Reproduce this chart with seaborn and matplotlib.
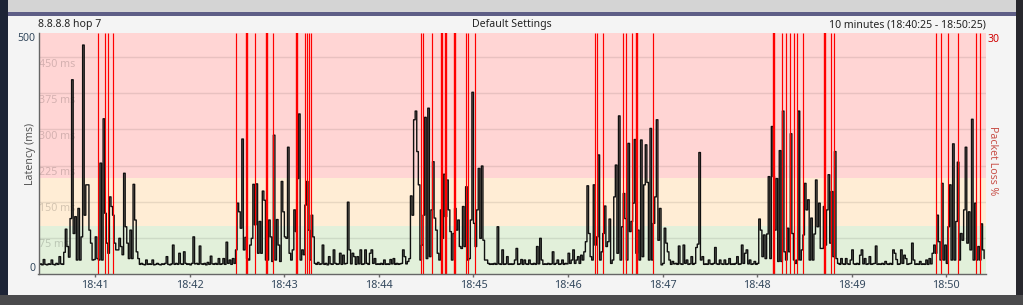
import numpy as np
import pandas as pd
import matplotlib
matplotlib.use("Agg")
import matplotlib.pyplot as plt
import matplotlib.dates as mdates
from matplotlib.patches import Rectangle
import seaborn as sns

# ---------------- data ----------------
start_time = "2024-01-01 18:40:24"
sample_step_s = 1
# latency (ms), one value per second from 18:40:24
latency_ms = [
    20, 21, 19, 30, 20, 19, 21, 20, 29, 20, 19, 22, 20, 36, 21, 20, 45, 93, 57, 35,
    115, 403, 84, 119, 29, 136, 29, 77, 475, 122, 185, 185, 91, 64, 29, 30, 77, 32, 29, 230,
    29, 322, 126, 64, 43, 160, 140, 122, 64, 50, 50, 74, 57, 40, 209, 98, 64, 32, 91, 32,
    186, 112, 46, 32, 20, 22, 20, 19, 29, 20, 21, 20, 29, 19, 20, 22, 20, 19, 21, 20,
    22, 36, 20, 19, 21, 60, 20, 22, 20, 43, 21, 20, 46, 22, 20, 21, 19, 22, 77, 21,
    22, 20, 58, 21, 20, 22, 19, 24, 20, 37, 21, 20, 22, 20, 32, 20, 21, 32, 20, 66,
    22, 29, 20, 32, 22, 50, 147, 129, 95, 280, 50, 76, 32, 29, 60, 74, 186, 102, 187, 43,
    109, 43, 172, 153, 29, 29, 112, 77, 26, 288, 29, 113, 60, 26, 192, 129, 77, 74, 263, 43,
    29, 50, 133, 88, 198, 332, 29, 50, 40, 143, 192, 91, 29, 122, 77, 22, 20, 24, 20, 21,
    60, 20, 22, 19, 36, 21, 20, 50, 22, 20, 21, 43, 20, 39, 21, 22, 149, 50, 21, 43,
    36, 20, 36, 21, 50, 20, 21, 50, 22, 20, 43, 50, 22, 32, 20, 21, 20, 22, 20, 29,
    20, 21, 20, 30, 21, 32, 20, 22, 20, 21, 22, 50, 36, 21, 26, 32, 162, 122, 320, 338,
    254, 185, 29, 60, 122, 325, 32, 344, 36, 133, 233, 116, 91, 43, 29, 133, 74, 207, 119, 195,
    133, 88, 29, 84, 136, 91, 112, 57, 53, 140, 57, 181, 29, 32, 112, 377, 105, 57, 133, 219,
    74, 224, 70, 29, 29, 22, 20, 21, 20, 22, 20, 98, 21, 20, 50, 20, 21, 36, 20, 21,
    20, 21, 29, 53, 20, 21, 30, 20, 29, 21, 20, 29, 21, 20, 22, 20, 57, 21, 74, 29,
    20, 21, 20, 22, 20, 21, 46, 20, 22, 29, 20, 21, 29, 20, 22, 21, 43, 22, 29, 50,
    22, 29, 36, 22, 39, 29, 46, 67, 183, 84, 36, 29, 185, 60, 77, 247, 29, 46, 84, 141,
    57, 67, 114, 22, 29, 160, 226, 43, 328, 29, 98, 167, 115, 29, 271, 88, 109, 147, 279, 43,
    91, 29, 278, 36, 185, 268, 190, 29, 302, 29, 105, 160, 320, 70, 136, 19, 22, 95, 64, 46,
    29, 20, 26, 21, 22, 20, 58, 21, 20, 60, 22, 29, 20, 21, 36, 20, 22, 55, 62, 252,
    29, 36, 20, 21, 20, 29, 21, 20, 22, 55, 21, 20, 29, 21, 20, 29, 20, 21, 32, 20,
    21, 20, 22, 36, 20, 21, 60, 22, 43, 50, 21, 29, 20, 21, 26, 20, 22, 114, 91, 36,
    81, 32, 83, 202, 32, 306, 202, 91, 198, 26, 256, 26, 338, 46, 29, 95, 46, 291, 84, 29,
    22, 29, 338, 29, 50, 81, 188, 133, 154, 29, 116, 29, 83, 195, 98, 147, 53, 53, 140, 60,
    133, 206, 64, 171, 36, 254, 32, 22, 20, 32, 21, 20, 32, 21, 20, 29, 50, 21, 20, 22,
    20, 39, 50, 21, 32, 20, 21, 36, 20, 21, 22, 58, 20, 21, 20, 22, 20, 26, 21, 20,
    22, 20, 50, 43, 30, 20, 21, 50, 22, 39, 32, 20, 21, 22, 64, 29, 20, 21, 20, 26,
    20, 21, 20, 29, 20, 32, 21, 43, 60, 43, 122, 67, 29, 188, 29, 60, 22, 98, 185, 29,
    270, 29, 109, 232, 29, 84, 70, 133, 263, 64, 129, 50, 321, 29, 147, 29, 57, 29, 104, 50,
    32,
]
# packet loss events: seconds after 18:40:24 and number of consecutive lost samples
loss_seconds = [38, 42, 44, 47, 125.5, 132, 137.6, 144.7, 149, 163.8,
                169.3, 170.6, 171.8, 173.1, 242.9, 244.2, 249.9, 256, 258.4, 264.1,
                271.4, 272.7, 277.2, 353.3, 354.6, 358.4, 371.1, 373, 376.8, 379.8,
                390.1, 466.5, 472, 474.5, 476.6, 479.5, 481.5, 485.3, 498.9, 503,
                504.9, 569.7, 572.9, 577.3, 583.6, 595, 597.6]
loss_run = [1, 1, 1, 1, 1, 2, 1, 2, 1, 2,
            1, 1, 1, 1, 1, 1, 1, 2, 2, 2,
            1, 1, 1, 1, 1, 1, 1, 1, 1, 2,
            1, 2, 1, 1, 1, 1, 1, 1, 2, 1,
            1, 1, 1, 1, 1, 1, 1]
band_edges = [0, 100, 200, 500]
band_colors = ["#e2f0da", "#ffedd5", "#ffd5d4"]
grid_values = [75, 150, 225, 300, 375, 450]
y_tick_values = [0, 500]
title_left = "8.8.8.8 hop 7"
title_center = "Default Settings"
title_right = "10 minutes (18:40:25 - 18:50:25)"
y_label = "Latency (ms)"
right_label = "Packet Loss %"
right_max = "30"
window_s = 601

# ---------------- figure ----------------
sns.set_theme(style="white")
plt.rcParams["font.family"] = ["Noto Sans", "DejaVu Sans"]

W, H = 1023, 305
fig = plt.figure(figsize=(W / 100, H / 100), dpi=100, facecolor="#27272d")


def px_rect(x0, y0, x1, y1, color):
    fig.add_artist(Rectangle((x0 / W, 1 - y1 / H), (x1 - x0) / W, (y1 - y0) / H,
                             transform=fig.transFigure, facecolor=color,
                             edgecolor="none", zorder=-5))


px_rect(0, 0, 8, 305, "#1d2436")
px_rect(0, 295, 1023, 305, "#4a4a4c")
px_rect(8, 0, 1016, 12, "#d4d4d4")
px_rect(8, 12, 1016, 16, "#5e5e86")
px_rect(8, 16, 1016, 295, "#f4f4f4")

L, R, T, B = 38.5, 985.7, 33, 274
ax = fig.add_axes([L / W, 1 - B / H, (R - L) / W, (B - T) / H])
ax.set_facecolor("none")

t0 = pd.Timestamp(start_time)
df = pd.DataFrame({
    "time": t0 + pd.to_timedelta(np.arange(len(latency_ms)) * sample_step_s, unit="s"),
    "latency": latency_ms,
})

# colour bands
for lo, hi, c in zip(band_edges[:-1], band_edges[1:], band_colors):
    ax.axhspan(lo, hi, color=c, lw=0, zorder=0)
# grid lines with inner labels
for v in grid_values:
    ax.axhline(v, color="#000000", alpha=0.09, lw=1, zorder=1)
    ax.text(0.001, v - 3, f"{v} ms", transform=ax.get_yaxis_transform(),
            ha="left", va="top", fontsize=7.7, color="#000000", alpha=0.17, zorder=1)

sns.lineplot(data=df, x="time", y="latency", ax=ax, color="#101010", lw=1.0,
             drawstyle="steps-post", estimator=None, zorder=3)

loss_x = mdates.date2num(t0 + pd.to_timedelta(loss_seconds, unit="s"))
ax.vlines(loss_x, 0, 500, colors="#ff0000", linewidths=[0.85 * r for r in loss_run], zorder=4)

ax.set_xlim(mdates.date2num(t0), mdates.date2num(t0 + pd.Timedelta(seconds=window_s)))
ax.set_ylim(band_edges[0], band_edges[-1])

ax.xaxis.set_major_locator(mdates.MinuteLocator())
ax.xaxis.set_major_formatter(mdates.DateFormatter("%H:%M"))
ax.tick_params(axis="x", length=2.2, width=1, color="#6a6a6a", direction="out",
               pad=2, labelsize=7.8, labelcolor="#34495e", bottom=True)
ax.set_yticks(y_tick_values)
ax.set_yticklabels([str(v) for v in y_tick_values])
ax.tick_params(axis="y", length=0, pad=2.5, labelsize=7.6, labelcolor="#34495e", left=True)
ylabs = ax.get_yticklabels()
ylabs[0].set_va("bottom")
ylabs[-1].set_va("top")
ax.set_xlabel("")
ax.set_ylabel("")

for s in ["top", "right"]:
    ax.spines[s].set_visible(False)
for s in ["left", "bottom"]:
    ax.spines[s].set_color("#666666")
    ax.spines[s].set_linewidth(1)
    ax.spines[s].set_zorder(5)

# titles and side labels
fs = 7.6
fig.text(L / W, 1 - 25 / H, title_left, ha="left", va="center", fontsize=fs, color="#222222")
fig.text((L + R) / 2 / W, 1 - 25 / H, title_center, ha="center", va="center", fontsize=fs, color="#222222")
fig.text(R / W, 1 - 25 / H, title_right, ha="right", va="center", fontsize=fs, color="#222222")
fig.text(30 / W, 1 - 153.5 / H, y_label, rotation=90, ha="center", va="center", fontsize=fs, color="#555555")
fig.text(987.5 / W, 1 - 39 / H, right_max, ha="left", va="center", fontsize=fs, color="#d00000")
fig.text(993 / W, 1 - 161 / H, right_label, rotation=-90, ha="center", va="center", fontsize=fs, color="#c85048")

fig.savefig("out.png", dpi=100, facecolor=fig.get_facecolor())
